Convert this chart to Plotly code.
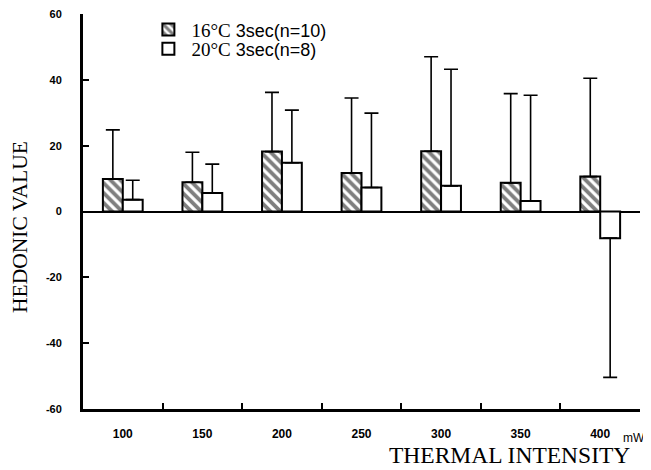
import plotly.graph_objects as go

categories = ["100", "150", "200", "250", "300", "350", "400"]
mean_16 = [9.9, 8.9, 18.2, 11.7, 18.3, 8.7, 10.6]
top_16 = [24.8, 18.0, 36.2, 34.5, 47.0, 35.8, 40.5]
mean_20 = [3.6, 5.6, 14.8, 7.3, 7.8, 3.2, -8.1]
tip_20 = [9.5, 14.4, 30.8, 29.9, 43.2, 35.3, -50.4]
y_ticks = [-60, -40, -20, 0, 20, 40, 60]

def err_up(m, t):
    return [max(b - a, 0) if a >= 0 else 0 for a, b in zip(m, t)]

def err_down(m, t):
    return [a - b if a < 0 else 0 for a, b in zip(m, t)]

serif = "Liberation Serif"
sans = "Liberation Sans"

fig = go.Figure()
fig.add_trace(go.Bar(
    x=categories, y=mean_16,
    name="<span style='font-family:Liberation Serif;font-size:19px'>16°C</span> 3sec(n=10)",
    legend="legend",
    marker=dict(color="white", line=dict(color="black", width=2),
                pattern=dict(shape="\\", fgcolor="black", bgcolor="white", size=7, solidity=0.55)),
    error_y=dict(type="data", symmetric=False, array=err_up(mean_16, top_16),
                 arrayminus=err_down(mean_16, top_16), color="black", thickness=1.6, width=7),
))
fig.add_trace(go.Bar(
    x=categories, y=mean_20,
    name="<span style='font-family:Liberation Serif;font-size:19px'>20°C</span> 3sec(n=8)",
    legend="legend2",
    marker=dict(color="white", line=dict(color="black", width=2)),
    error_y=dict(type="data", symmetric=False, array=err_up(mean_20, tip_20),
                 arrayminus=err_down(mean_20, tip_20), color="black", thickness=1.6, width=7),
))

leg_common = dict(xanchor="left", yanchor="middle",
                  font=dict(family=sans, size=18, color="black"),
                  bgcolor="rgba(0,0,0,0)", itemwidth=36)

fig.update_layout(
    width=643, height=462,
    margin=dict(l=75, r=11, t=6, b=61, autoexpand=False),
    paper_bgcolor="white", plot_bgcolor="white",
    barmode="group", bargap=0.5, bargroupgap=0,
    showlegend=True,
    legend=dict(x=0.112, y=0.96, **leg_common),
    legend2=dict(x=0.112, y=0.911, **leg_common),
    font=dict(family=sans, color="black"),
)
fig.update_xaxes(
    type="category", showline=True, linecolor="black", linewidth=2.5, mirror=False,
    ticks="inside", tickson="boundaries", ticklen=6, tickwidth=1.5, tickcolor="black",
    tickfont=dict(family=sans, size=12, weight="bold", color="black"),
    ticklabelstandoff=12, showgrid=False, zeroline=False, range=[-0.5, 6.5],
    automargin=False, ticklabeloverflow="allow",
)
fig.update_yaxes(
    range=[-60, 60], tickvals=y_ticks, ticktext=[str(v) for v in y_ticks],
    showline=True, linecolor="black", linewidth=3,
    ticks="inside", ticklen=6, tickwidth=1.5, tickcolor="black",
    tickfont=dict(family=sans, size=11, weight="bold", color="black"),
    ticklabelstandoff=16, showgrid=False,
    zeroline=True, zerolinecolor="black", zerolinewidth=2,
    automargin=False, ticklabeloverflow="allow",
)

fig.add_annotation(xref="paper", yref="paper", x=-0.113, y=0.461, text="HEDONIC VALUE",
                   showarrow=False, textangle=-90, font=dict(family=serif, size=21.5, color="black"),
                   xanchor="center", yanchor="middle")
fig.add_annotation(xref="paper", yref="paper", x=1.012, y=-0.073, text="mW", showarrow=False,
                   font=dict(family=sans, size=12, color="black"), xanchor="right", yanchor="middle")
fig.add_annotation(xref="paper", yref="paper", x=0.986, y=-0.116, text="THERMAL INTENSITY",
                   showarrow=False, font=dict(family=serif, size=23.5, color="black"),
                   xanchor="right", yanchor="middle")

fig.write_html("out.html")
